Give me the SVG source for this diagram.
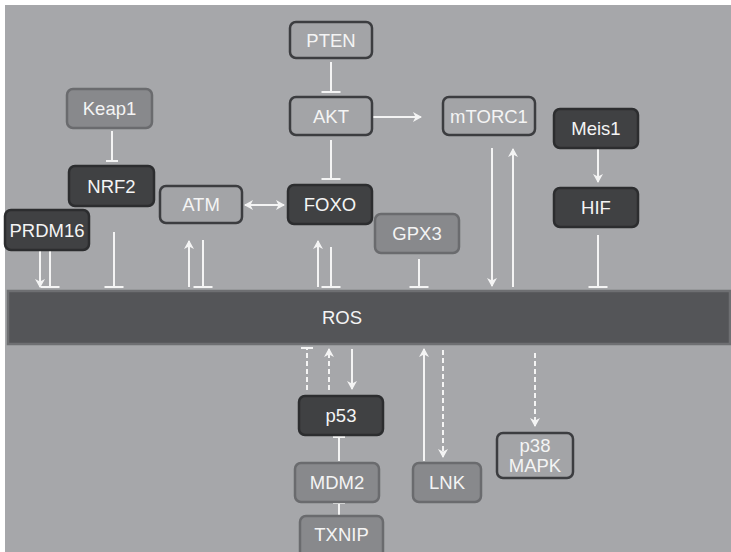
<svg xmlns="http://www.w3.org/2000/svg" width="731" height="552" viewBox="0 0 731 552">
<defs>
<style>
.dark rect{fill:#404143;stroke:#2c2d2f;stroke-width:2.5}
.med rect{fill:#88898c;stroke:#6a6b6e;stroke-width:2.5}
.light rect{fill:#a3a4a7;stroke:#3c3d40;stroke-width:2.5}
text{font-family:"Liberation Sans",Arial,sans-serif;font-size:18.5px;fill:#f4f4f4;text-anchor:middle}
.c line{stroke:#f4f4f4;stroke-width:2;fill:none}
.c .d{stroke-dasharray:5 3}
.c .a{marker-end:url(#arr)}
.c .t{marker-end:url(#bar)}
.c .ts{marker-end:url(#bars)}
.c .as{marker-start:url(#arrs)}
</style>
<marker id="arr" markerUnits="userSpaceOnUse" viewBox="-10 -10 20 20" markerWidth="20" markerHeight="20" refX="0" refY="0" orient="auto">
<path d="M-8,-5 L1,0 L-8,5 L-5.5,0 z" fill="#f4f4f4"/>
</marker>
<marker id="arrs" markerUnits="userSpaceOnUse" viewBox="-10 -10 20 20" markerWidth="20" markerHeight="20" refX="0" refY="0" orient="auto-start-reverse">
<path d="M-8,-5 L1,0 L-8,5 L-5.5,0 z" fill="#f4f4f4"/>
</marker>
<marker id="bar" markerUnits="userSpaceOnUse" viewBox="-10 -10 20 20" markerWidth="20" markerHeight="20" refX="0" refY="0" orient="auto">
<path d="M0,-9.5 V9.5" stroke="#f4f4f4" stroke-width="2"/>
</marker>
<marker id="bars" markerUnits="userSpaceOnUse" viewBox="-10 -10 20 20" markerWidth="20" markerHeight="20" refX="0" refY="0" orient="auto">
<path d="M0,-6 V6" stroke="#f4f4f4" stroke-width="2"/>
</marker>
</defs>
<rect x="0" y="0" width="731" height="552" fill="#ffffff"/>
<rect x="5" y="5" width="726" height="547" fill="#a6a7aa"/>

<g id="ROS">
<rect x="8" y="291" width="722" height="53" fill="#545558" stroke="#6e6f72" stroke-width="2.5"/>
<text x="342" y="324">ROS</text>
</g>

<g class="c" id="connectors">
<line class="ts" x1="112" y1="131" x2="112" y2="161"/>
<line class="t" x1="331" y1="62" x2="331" y2="92"/>
<line class="t" x1="331" y1="140" x2="331" y2="179"/>
<line class="a" x1="373" y1="117" x2="421" y2="117"/>
<line class="a as" x1="245" y1="205" x2="284" y2="205"/>
<line class="a" x1="598" y1="149" x2="598" y2="182"/>
<line class="a" x1="40" y1="246" x2="40" y2="287"/>
<line class="t" x1="50" y1="246" x2="50" y2="287"/>
<line class="t" x1="114" y1="232" x2="114" y2="287"/>
<line class="a" x1="189" y1="287" x2="189" y2="241"/>
<line class="t" x1="203" y1="240" x2="203" y2="287"/>
<line class="a" x1="318" y1="287" x2="318" y2="241"/>
<line class="t" x1="331" y1="247" x2="331" y2="287"/>
<line class="t" x1="419" y1="259" x2="419" y2="287"/>
<line class="a" x1="492" y1="148" x2="492" y2="286"/>
<line class="a" x1="513" y1="287" x2="513" y2="149"/>
<line class="t" x1="598" y1="235" x2="598" y2="287"/>
<line class="ts d" x1="307" y1="390" x2="307" y2="348"/>
<line class="a d" x1="329" y1="390" x2="329" y2="349"/>
<line class="a" x1="352" y1="349" x2="352" y2="389"/>
<line class="ts" x1="339" y1="461" x2="339" y2="437"/>
<line class="ts" x1="339" y1="515" x2="339" y2="503"/>
<line class="a" x1="424" y1="461" x2="424" y2="349"/>
<line class="a d" x1="443" y1="350" x2="443" y2="457"/>
<line class="a d" x1="535" y1="353" x2="535" y2="426"/>
</g>

<g id="Keap1" class="med"><rect x="67" y="89" width="85" height="39" rx="6"/><text x="109.5" y="115">Keap1</text></g>
<g id="NRF2" class="dark"><rect x="69" y="166" width="85" height="40" rx="6"/><text x="111.5" y="193">NRF2</text></g>
<g id="ATM" class="light"><rect x="160" y="186" width="82" height="37" rx="6"/><text x="201" y="211">ATM</text></g>
<g id="PRDM16" class="dark"><rect x="5" y="210" width="84" height="40" rx="6"/><text x="47" y="237">PRDM16</text></g>
<g id="PTEN" class="light"><rect x="290" y="22" width="82" height="36" rx="6"/><text x="331" y="47">PTEN</text></g>
<g id="AKT" class="light"><rect x="290" y="97" width="82" height="38" rx="6"/><text x="331" y="123">AKT</text></g>
<g id="mTORC1" class="light"><rect x="443" y="97" width="92" height="38" rx="6"/><text x="489" y="123">mTORC1</text></g>
<g id="Meis1" class="dark"><rect x="554" y="109" width="84" height="39" rx="6"/><text x="596" y="135">Meis1</text></g>
<g id="FOXO" class="dark"><rect x="288" y="185" width="84" height="39" rx="6"/><text x="330" y="211">FOXO</text></g>
<g id="GPX3" class="med"><rect x="375" y="214" width="84" height="39" rx="6"/><text x="417" y="240">GPX3</text></g>
<g id="HIF" class="dark"><rect x="554" y="188" width="84" height="39" rx="6"/><text x="596" y="214">HIF</text></g>
<g id="p53" class="dark"><rect x="299" y="396" width="84" height="39" rx="6"/><text x="341" y="422">p53</text></g>
<g id="MDM2" class="med"><rect x="295" y="463" width="84" height="39" rx="6"/><text x="337" y="489">MDM2</text></g>
<g id="TXNIP" class="med"><rect x="300" y="516" width="83" height="45" rx="6"/><text x="341.5" y="541">TXNIP</text></g>
<g id="LNK" class="med"><rect x="413" y="463" width="68" height="39" rx="6"/><text x="447" y="489">LNK</text></g>
<g id="p38MAPK" class="light"><rect x="497" y="433" width="76" height="45" rx="6"/><text x="535" y="452">p38</text><text x="535" y="472">MAPK</text></g>
</svg>
